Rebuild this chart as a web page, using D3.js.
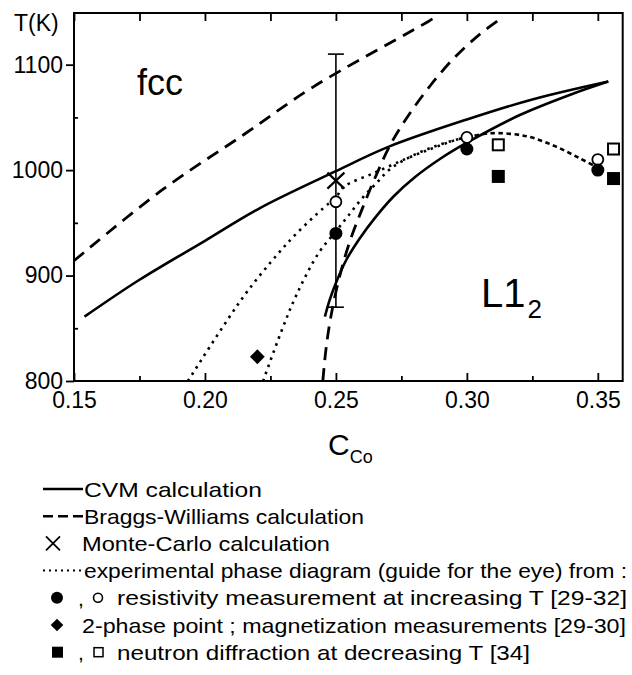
<!DOCTYPE html>
<html>
<head>
<meta charset="utf-8">
<script src="https://cdn.jsdelivr.net/npm/d3@7"></script>
<style>
body { margin: 0; background: #fff; }
svg { font-family: "Liberation Sans", Arial, sans-serif; }
</style>
</head>
<body>
<svg id="chart" width="632" height="675"></svg>
<script>
// ---- data (C_Co, T in K) ----
var cvmUpper = [[0.154,861],[0.175,896],[0.20,933],[0.221,964],[0.25,999],[0.27,1022],[0.30,1048],[0.325,1067],[0.354,1084]];
var cvmLower = [[0.2458,861],[0.2475,876],[0.25,893],[0.254,915],[0.259,935],[0.265,955],[0.272,975],[0.28,993],[0.29,1011],[0.30,1026],[0.32,1052],[0.34,1072],[0.354,1084]];
var bwLeft = [[0.15,914],[0.183,980],[0.215,1034],[0.2414,1079],[0.2853,1141],[0.2885,1146]];
var bwRight = [[0.245,800],[0.2462,830],[0.248,860],[0.251,895],[0.255,930],[0.26,963],[0.265,993],[0.271,1025],[0.278,1053],[0.286,1080],[0.295,1106],[0.305,1129],[0.312,1142]];
var expOpen = [[0.1935,800],[0.2147,880],[0.228,921],[0.235,940],[0.2452,964],[0.25,974],[0.2529,984],[0.2643,997],[0.277,1011],[0.2872,1021],[0.2962,1029],[0.30,1031]];
var expFilled = [[0.2222,800],[0.229,846],[0.235,882],[0.2433,921],[0.25,942],[0.2548,957],[0.2599,973],[0.2656,988],[0.2707,1001],[0.2787,1013],[0.2872,1022],[0.2962,1029],[0.30,1031]];
var expDome = [[0.30,1031],[0.309,1035],[0.323,1032],[0.3343,1022],[0.3432,1011],[0.3496,1003]];

var resFilled = [[0.25,940],[0.30,1020],[0.35,1000]];
var resOpen = [[0.25,970],[0.30,1031],[0.35,1010]];
var neutFilled = [[0.312,994],[0.356,992]];
var neutOpen = [[0.312,1024],[0.356,1020]];
var twoPhase = [[0.22,823]];
var monteCarlo = [[0.25,990,870,1110]]; // c, T, low, high

var xTicks = [0.15,0.20,0.25,0.30,0.35];
var xMinor = [0.175,0.225,0.275,0.325];
var yTicks = [800,900,1000,1100];
var yMinor = [850,950,1050];

var legendLabels = [
  "CVM calculation",
  "Braggs-Williams calculation",
  "Monte-Carlo calculation",
  "experimental phase diagram (guide for the eye) from :",
  "resistivity measurement at increasing T [29-32]",
  "2-phase point ; magnetization measurements [29-30]",
  "neutron diffraction at decreasing T [34]"
];

// ---- scales ----
var plotL = 74, plotR = 622.7, plotT = 13, plotB = 381;
var x = d3.scaleLinear().domain([0.15, 0.3595]).range([plotL, plotR]);
var y = d3.scaleLinear().domain([800, 1149]).range([plotB, plotT]);

var svg = d3.select("#chart");

svg.append("clipPath").attr("id", "plotclip")
  .append("rect")
  .attr("x", plotL).attr("y", plotT)
  .attr("width", plotR - plotL).attr("height", plotB - plotT);

var line = d3.line()
  .x(function(d) { return x(d[0]); })
  .y(function(d) { return y(d[1]); })
  .curve(d3.curveCatmullRom.alpha(0.5));

// ---- axes ----
var gx = svg.append("g").attr("transform", "translate(0," + plotB + ")")
  .call(d3.axisBottom(x).tickValues(xTicks).tickFormat(d3.format(".2f"))
    .tickSizeInner(-8).tickSizeOuter(0).tickPadding(11));
var gxm = svg.append("g").attr("transform", "translate(0," + plotB + ")")
  .call(d3.axisBottom(x).tickValues(xMinor).tickFormat("").tickSizeInner(-5).tickSizeOuter(0));
var gt = svg.append("g").attr("transform", "translate(0," + plotT + ")")
  .call(d3.axisTop(x).tickValues(xTicks.concat(xMinor)).tickFormat("").tickSizeInner(-8).tickSizeOuter(0));
var gy = svg.append("g").attr("transform", "translate(" + plotL + ",0)")
  .call(d3.axisLeft(y).tickValues(yTicks).tickFormat(d3.format("d"))
    .tickSizeInner(8).tickSizeOuter(0).tickPadding(3));
var gym = svg.append("g").attr("transform", "translate(" + plotL + ",0)")
  .call(d3.axisLeft(y).tickValues(yMinor).tickFormat("").tickSizeInner(-4).tickSizeOuter(0));

[gx, gxm, gt, gy, gym].forEach(function(g) {
  g.select(".domain").remove();
  g.attr("font-size", 23).attr("font-family", "'Liberation Sans', Arial, sans-serif");
  g.selectAll(".tick line").attr("stroke", "#000").attr("stroke-width", 1.8);
  g.selectAll(".tick text").attr("fill", "#000");
});

svg.append("rect")
  .attr("x", plotL).attr("y", plotT)
  .attr("width", plotR - plotL).attr("height", plotB - plotT)
  .attr("fill", "none").attr("stroke", "#000").attr("stroke-width", 2);

svg.append("text").attr("x", 14).attr("y", 31).style("font-size", "23px").text("T(K)");

var cLabel = svg.append("text").attr("x", 328).attr("y", 455).style("font-size", "30px");
cLabel.append("tspan").text("C");
cLabel.append("tspan").attr("dy", 8).style("font-size", "18px").text("Co");

svg.append("text").attr("x", 137).attr("y", 95).style("font-size", "36px").text("fcc");
var l12 = svg.append("text").attr("x", 481).attr("y", 307).style("font-size", "40px");
l12.append("tspan").text("L1");
l12.append("tspan").attr("dy", 11).attr("dx", 2).style("font-size", "26px").text("2");

// ---- curves ----
var plot = svg.append("g").attr("clip-path", "url(#plotclip)");

[cvmUpper, cvmLower].forEach(function(d) {
  plot.append("path").attr("d", line(d)).attr("fill", "none")
    .attr("stroke", "#000").attr("stroke-width", 2.6);
});
[bwLeft, bwRight].forEach(function(d) {
  plot.append("path").attr("d", line(d)).attr("fill", "none")
    .attr("stroke", "#000").attr("stroke-width", 2.8).attr("stroke-dasharray", "13,8");
});
[expOpen, expFilled].forEach(function(d) {
  plot.append("path").attr("d", line(d)).attr("fill", "none")
    .attr("stroke", "#000").attr("stroke-width", 2.6).attr("stroke-dasharray", "2.5,5");
});
plot.append("path").attr("d", line(expDome)).attr("fill", "none")
  .attr("stroke", "#000").attr("stroke-width", 2.6).attr("stroke-dasharray", "4.5,3.5");

// ---- Monte-Carlo with error bar ----
var mc = svg.append("g");
monteCarlo.forEach(function(d) {
  var cx = x(d[0]), cy = y(d[1]);
  mc.append("line").attr("x1", cx).attr("x2", cx).attr("y1", y(d[2])).attr("y2", y(d[3]))
    .attr("stroke", "#000").attr("stroke-width", 1.6);
  [d[2], d[3]].forEach(function(v) {
    mc.append("line").attr("x1", cx - 8).attr("x2", cx + 8).attr("y1", y(v)).attr("y2", y(v))
      .attr("stroke", "#000").attr("stroke-width", 1.6);
  });
  mc.append("path").attr("d", "M" + (cx - 8.5) + "," + (cy - 8) + "L" + (cx + 8.5) + "," + (cy + 8) +
      "M" + (cx + 8.5) + "," + (cy - 8) + "L" + (cx - 8.5) + "," + (cy + 8))
    .attr("stroke", "#000").attr("stroke-width", 2.2);
});

// ---- markers ----
svg.selectAll(".res-open").data(resOpen).enter().append("circle")
  .attr("cx", function(d) { return x(d[0]); }).attr("cy", function(d) { return y(d[1]); })
  .attr("r", 5.5).attr("fill", "#fff").attr("stroke", "#000").attr("stroke-width", 1.8);
svg.selectAll(".res-filled").data(resFilled).enter().append("circle")
  .attr("cx", function(d) { return x(d[0]); }).attr("cy", function(d) { return y(d[1]); })
  .attr("r", 6.5).attr("fill", "#000");
svg.selectAll(".neut-filled").data(neutFilled).enter().append("rect")
  .attr("x", function(d) { return x(d[0]) - 6.5; }).attr("y", function(d) { return y(d[1]) - 6.5; })
  .attr("width", 13).attr("height", 13).attr("fill", "#000");
svg.selectAll(".neut-open").data(neutOpen).enter().append("rect")
  .attr("x", function(d) { return x(d[0]) - 5.5; }).attr("y", function(d) { return y(d[1]) - 5.5; })
  .attr("width", 11).attr("height", 11).attr("fill", "#fff").attr("stroke", "#000").attr("stroke-width", 2);
svg.selectAll(".two-phase").data(twoPhase).enter().append("path")
  .attr("d", d3.symbol(d3.symbolSquare, 110))
  .attr("transform", function(d) { return "translate(" + x(d[0]) + "," + y(d[1]) + ") rotate(45)"; })
  .attr("fill", "#000");

// ---- legend ----
var rowY = d3.range(7).map(function(i) { return 489 + i * 27.2; });
var textStart = [84, 84, 82, 84, 117, 82, 117];
var textEnd = [262, 364, 330, 627, 627, 626, 530];
var leg = svg.append("g");

leg.append("line").attr("x1", 43).attr("x2", 83).attr("y1", rowY[0]).attr("y2", rowY[0])
  .attr("stroke", "#000").attr("stroke-width", 2.4);
leg.append("line").attr("x1", 43).attr("x2", 83).attr("y1", rowY[1]).attr("y2", rowY[1])
  .attr("stroke", "#000").attr("stroke-width", 2.6).attr("stroke-dasharray", "10,5");
leg.append("path").attr("d", "M46," + (rowY[2] - 7) + "L60," + (rowY[2] + 7) + "M60," + (rowY[2] - 7) + "L46," + (rowY[2] + 7))
  .attr("stroke", "#000").attr("stroke-width", 1.8);
leg.append("line").attr("x1", 43).attr("x2", 83).attr("y1", rowY[3]).attr("y2", rowY[3])
  .attr("stroke", "#000").attr("stroke-width", 2).attr("stroke-dasharray", "2,4");
leg.append("circle").attr("cx", 57).attr("cy", rowY[4]).attr("r", 6).attr("fill", "#000");
leg.append("circle").attr("cx", 98).attr("cy", rowY[4]).attr("r", 4.5).attr("fill", "#fff")
  .attr("stroke", "#000").attr("stroke-width", 1.6);
leg.append("path").attr("d", d3.symbol(d3.symbolSquare, 80))
  .attr("transform", "translate(57," + rowY[5] + ") rotate(45)").attr("fill", "#000");
leg.append("rect").attr("x", 52).attr("y", rowY[6] - 5.5).attr("width", 11).attr("height", 11).attr("fill", "#000");
leg.append("rect").attr("x", 94).attr("y", rowY[6] - 4.5).attr("width", 9).attr("height", 9)
  .attr("fill", "#fff").attr("stroke", "#000").attr("stroke-width", 1.5);
[4, 6].forEach(function(i) {
  leg.append("text").attr("x", 78).attr("y", rowY[i] + 8).style("font-size", "21px").text(",");
});

legendLabels.forEach(function(t, i) {
  leg.append("text")
    .attr("x", textStart[i]).attr("y", rowY[i] + 7.5)
    .attr("textLength", textEnd[i] - textStart[i])
    .attr("lengthAdjust", "spacingAndGlyphs")
    .style("font-size", "21px")
    .text(t);
});
</script>
</body>
</html>
